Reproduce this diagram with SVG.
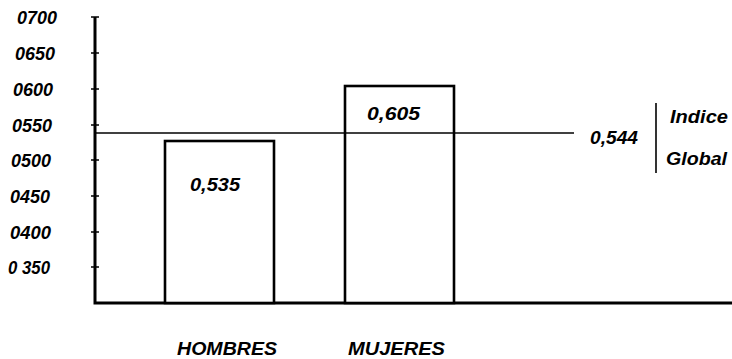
<svg xmlns="http://www.w3.org/2000/svg" width="732" height="359" viewBox="0 0 732 359">
<style>
.t{font-family:"Liberation Sans",Arial,sans-serif;font-style:italic;font-weight:bold;font-size:18px;fill:#000}
.ax{stroke:#000;stroke-width:3;fill:none}
.ln{stroke:#000;stroke-width:1.6;fill:none}
.bar{stroke:#000;stroke-width:2.6;fill:#fff}
</style>
<rect width="732" height="359" fill="#fff"/>
<g id="y-labels">
<text class="t" x="17" y="24" textLength="40" lengthAdjust="spacingAndGlyphs">0700</text>
<text class="t" x="15" y="60" textLength="40" lengthAdjust="spacingAndGlyphs">0650</text>
<text class="t" x="13" y="96" textLength="40" lengthAdjust="spacingAndGlyphs">0600</text>
<text class="t" x="12" y="132" textLength="40" lengthAdjust="spacingAndGlyphs">0550</text>
<text class="t" x="11" y="167" textLength="40" lengthAdjust="spacingAndGlyphs">0500</text>
<text class="t" x="10" y="203" textLength="40" lengthAdjust="spacingAndGlyphs">0450</text>
<text class="t" x="10" y="239" textLength="41" lengthAdjust="spacingAndGlyphs">0400</text>
<text class="t" x="8" y="274" textLength="42" lengthAdjust="spacingAndGlyphs">0 350</text>
</g>
<g id="axes">
<path class="ax" d="M95,17 V303 H732"/>
<path class="ln" d="M91,17 H99 M91,53 H99 M91,89 H99 M91,125 H99 M91,160 H99 M91,196 H99 M91,232 H99 M91,267 H99"/>
</g>
<g id="bar-hombres">
<rect class="bar" x="165" y="141" width="109" height="162"/>
<text class="t" x="190" y="191" textLength="50" lengthAdjust="spacingAndGlyphs">0,535</text>
</g>
<g id="bar-mujeres">
<rect class="bar" x="345" y="86" width="109" height="217"/>
<text class="t" x="367" y="120" textLength="53" lengthAdjust="spacingAndGlyphs">0,605</text>
</g>
<g id="connectors">
<path class="ln" d="M95,133 H574"/>
<path class="ln" d="M656,103 V173"/>
</g>
<g id="global">
<text class="t" x="590" y="144" textLength="48" lengthAdjust="spacingAndGlyphs">0,544</text>
<text class="t" x="670" y="123" textLength="58" lengthAdjust="spacingAndGlyphs">Indice</text>
<text class="t" x="666" y="165" textLength="61" lengthAdjust="spacingAndGlyphs">Global</text>
</g>
<g id="x-labels">
<text class="t" x="177" y="355" textLength="100" lengthAdjust="spacingAndGlyphs">HOMBRES</text>
<text class="t" x="348" y="355" textLength="97" lengthAdjust="spacingAndGlyphs">MUJERES</text>
</g>
</svg>
